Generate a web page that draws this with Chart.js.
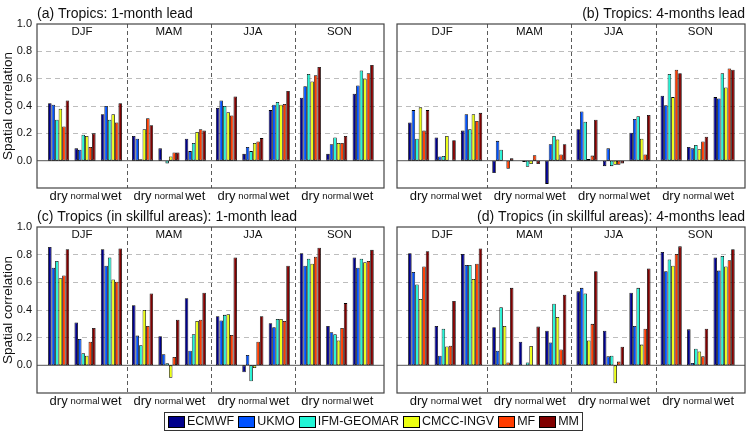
<!DOCTYPE html>
<html>
<head>
<meta charset="utf-8">
<script src="https://cdn.jsdelivr.net/npm/chart.js@4.4.1/dist/chart.umd.min.js"></script>
<style>
html,body{margin:0;padding:0;background:#fff;}
#fig{position:relative;width:747px;height:436px;overflow:hidden;font-family:'Liberation Sans',Arial,sans-serif;color:#111;}
.pan{position:absolute;}
.pan canvas{display:block;}
#legend{position:absolute;left:0;right:0;top:412px;display:flex;justify-content:center;}
#legend .box{display:flex;align-items:center;border:1px solid #333;height:17px;padding:0 3px 0 3px;gap:4px;font-size:12.5px;line-height:17px;}
#legend .item{display:flex;align-items:center;}
#legend .sw{width:15px;height:10px;border:1px solid #000;margin-right:2px;}
</style>
</head>
<body>
<div id="fig">
  <div class="pan" style="left:0;top:0"><canvas id="panelA" width="390" height="210"></canvas></div>
  <div class="pan" style="left:390px;top:0"><canvas id="panelB" width="357" height="210"></canvas></div>
  <div class="pan" style="left:0;top:210px"><canvas id="panelC" width="390" height="205"></canvas></div>
  <div class="pan" style="left:390px;top:210px"><canvas id="panelD" width="357" height="205"></canvas></div>
  <div id="legend"><div class="box" id="legendBox"></div></div>
</div>
<script>
'use strict';
Chart.defaults.font.family = "'Liberation Sans', Arial, sans-serif";
Chart.defaults.color = '#111';
Chart.defaults.animation = false;

const models = ['ECMWF','UKMO','IFM-GEOMAR','CMCC-INGV','MF','MM'];
const modelColors = ['#00008c','#0052ff','#22f5d6','#ecff12','#ff3c00','#800000'];
const seasons = ['DJF','MAM','JJA','SON'];
const cats = ['dry','normal','wet'];

// one row per model; columns: DJF dry/normal/wet, MAM ..., JJA ..., SON ...
const lead1 = [
  [0.42,0.09,0.34, 0.18,0.09,0.16,   0.385,0.05,0.37, 0.46,0.05,0.49],
  [0.41,0.08,0.40, 0.16,-0.005,0.07, 0.44,0.10,0.41,  0.545,0.12,0.55],
  [0.30,0.19,0.30, 0.01,-0.02,0.13,  0.40,0.07,0.43,  0.635,0.17,0.66],
  [0.38,0.18,0.34, 0.23,0.03,0.21,   0.355,0.13,0.41, 0.58,0.13,0.60],
  [0.25,0.10,0.28, 0.31,0.06,0.23,   0.33,0.14,0.415, 0.625,0.13,0.64],
  [0.44,0.20,0.42, 0.26,0.06,0.22,   0.47,0.165,0.51, 0.685,0.18,0.70]
];
const lead4 = [
  [0.28,0.17,0.22,  -0.09,0.0,-0.17,    0.23,-0.04,0.205,  0.475,0.10,0.465],
  [0.37,0.03,0.34,  0.145,-0.01,0.12,   0.36,0.09,0.305,   0.405,0.09,0.455],
  [0.16,0.035,0.23, 0.08,-0.045,0.18,   0.285,-0.04,0.325, 0.635,0.115,0.64],
  [0.39,0.18,0.34,  0.0,-0.025,0.155,   0.012,-0.03,0.16,  0.465,0.083,0.535],
  [0.22,0.0,0.29,   -0.06,0.04,0.045,   0.037,-0.03,0.045, 0.665,0.14,0.675],
  [0.37,0.15,0.35,  0.017,-0.025,0.12,  0.30,-0.02,0.335,  0.64,0.175,0.665]
];
const skill1 = [
  [0.855,0.31,0.84,  0.435,0.21,0.485,  0.355,-0.05,0.305,  0.81,0.285,0.78],
  [0.705,0.19,0.72,  0.215,0.08,0.105,  0.325,0.075,0.275,  0.72,0.24,0.705],
  [0.755,0.087,0.78, 0.145,0.015,0.225, 0.365,-0.115,0.335, 0.77,0.225,0.77],
  [0.63,0.07,0.62,   0.40,-0.09,0.32,   0.37,-0.02,0.335,   0.735,0.18,0.745],
  [0.65,0.17,0.605,  0.285,0.06,0.33,   0.22,0.17,0.32,     0.785,0.27,0.755],
  [0.84,0.27,0.845,  0.52,0.33,0.525,   0.78,0.355,0.72,    0.85,0.45,0.835]
];
const skill4 = [
  [0.81,0.285,0.805,  0.275,0.17,0.25,  0.535,0.25,0.525,  0.82,0.26,0.78],
  [0.675,0.07,0.725,  0.105,0.0,0.165,  0.56,0.065,0.285,  0.68,0.017,0.685],
  [0.585,0.265,0.725, 0.42,0.02,0.445,  0.52,0.07,0.56,    0.765,0.12,0.79],
  [0.48,0.137,0.625,  0.285,0.14,0.35,  0.18,-0.13,0.15,   0.72,0.10,0.715],
  [0.715,0.142,0.735, 0.02,0.005,0.115, 0.30,0.027,0.265,  0.805,0.065,0.76],
  [0.825,0.465,0.845, 0.56,0.28,0.51,   0.68,0.135,0.70,   0.86,0.265,0.84]
];

// x layout: groups 1 unit apart inside a season, a slightly wider step between seasons
const SEASON_STEP = 3.18, X_MIN = -0.82, X_MAX = 3*SEASON_STEP + 2.79;
const xPos = seasons.flatMap((s,i)=>cats.map((c,j)=>i*SEASON_STEP + j));
const divider = i => (i-1)*SEASON_STEP + 2 + (SEASON_STEP-2)/2;

const panelDecor = {
  id:'panelDecor',
  beforeDatasetsDraw(chart){
    const {ctx, chartArea:a, scales:{x,y}} = chart;
    ctx.save();
    ctx.lineWidth = 1; ctx.strokeStyle = '#5a5a5a'; ctx.setLineDash([4,3]);
    for(let s=1;s<seasons.length;s++){
      const px = Math.round(x.getPixelForValue(divider(s)))+0.5;
      ctx.beginPath(); ctx.moveTo(px,a.top); ctx.lineTo(px,a.bottom); ctx.stroke();
    }
    ctx.setLineDash([]); ctx.strokeStyle = '#777'; ctx.lineWidth = 1.3;
    const y0 = y.getPixelForValue(0);
    ctx.beginPath(); ctx.moveTo(a.left,y0); ctx.lineTo(a.right,y0); ctx.stroke();
    ctx.restore();
  },
  afterDraw(chart, args, opts){
    const {ctx, chartArea:a, scales:{x}} = chart;
    ctx.save();
    ctx.strokeStyle = '#444'; ctx.lineWidth = 1.2;
    ctx.strokeRect(a.left, a.top, a.right-a.left, a.bottom-a.top);
    ctx.fillStyle = '#111';
    ctx.font = "11.5px 'Liberation Sans', Arial, sans-serif";
    ctx.textAlign = 'center'; ctx.textBaseline = 'middle';
    seasons.forEach((s,i)=>{
      const l = i===0 ? a.left : x.getPixelForValue(divider(i));
      const r = i===seasons.length-1 ? a.right : x.getPixelForValue(divider(i+1));
      ctx.fillText(s,(l+r)/2,a.top+7.5);
    });
    ctx.font = "14px 'Liberation Sans', Arial, sans-serif";
    ctx.textBaseline = 'alphabetic';
    ctx.textAlign = opts.align;
    ctx.fillText(opts.title, opts.align==='left' ? a.left : a.right, a.top-6.5);
    ctx.restore();
  }
};

function makePanel(id, rows, title, isLeft, padTop){
  return new Chart(document.getElementById(id),{
    type:'bar',
    data:{datasets:models.map((m,k)=>({
      label:m,
      data:rows[k].map((v,i)=>({x:xPos[i],y:v})),
      backgroundColor:modelColors[k], borderColor:'#000', borderWidth:0.8, borderSkipped:false
    }))},
    options:{
      responsive:false, animation:false,
      layout:{padding:{top:padTop,right:isLeft?6:2,left:0,bottom:0}},
      datasets:{bar:{categoryPercentage:0.8,barPercentage:1}},
      plugins:{legend:{display:false},tooltip:{enabled:false},panelDecor:{title,align:isLeft?'left':'right'}},
      scales:{
        x:{type:'linear',min:X_MIN,max:X_MAX,bounds:'data',offset:false,
          grid:{display:false,drawTicks:false},border:{display:false},
          afterBuildTicks:s=>{s.ticks=xPos.map(v=>({value:v}));},
          afterFit:s=>{s.height=22;},
          ticks:{autoSkip:false,maxRotation:0,minRotation:0,padding:0,color:'#111',
            callback:(v,i)=>cats[i%3],
            font:c=>c.index%3===1?{size:9.5,lineHeight:'16px'}:{size:13,lineHeight:'16px'}}
        },
        y:{min:-0.2,max:1.0,
          afterFit:s=>{s.width=isLeft?37:7;},
          ticks:{display:isLeft,stepSize:0.2,padding:5,color:'#111',font:{size:11},
            callback:v=>v<-0.1?'':(Math.abs(v)<1e-9?0:v).toFixed(1)},
          grid:{drawTicks:false,lineWidth:1,
            color:c=>{const v=c.tick&&c.tick.value;return (v>0.1&&v<0.9)?'#bdbdbd':'rgba(0,0,0,0)';}},
          border:{display:false,dash:[5,4]},
          title:{display:isLeft,text:'Spatial correlation',font:{size:13.5},color:'#111',padding:{top:0,bottom:0}}
        }
      }
    },
    plugins:[panelDecor]
  });
}

makePanel('panelA', lead1, '(a) Tropics: 1-month lead', true, 24);
makePanel('panelB', lead4, '(b) Tropics: 4-months lead', false, 24);
makePanel('panelC', skill1, '(c) Tropics (in skillful areas): 1-month lead', true, 17);
makePanel('panelD', skill4, '(d) Tropics (in skillful areas): 4-months lead', false, 17);

const lb = document.getElementById('legendBox');
models.forEach((m,k)=>{
  const it = document.createElement('div'); it.className='item';
  it.innerHTML = `<span class="sw" style="background:${modelColors[k]}"></span><span>${m}</span>`;
  lb.appendChild(it);
});
</script>
</body>
</html>
